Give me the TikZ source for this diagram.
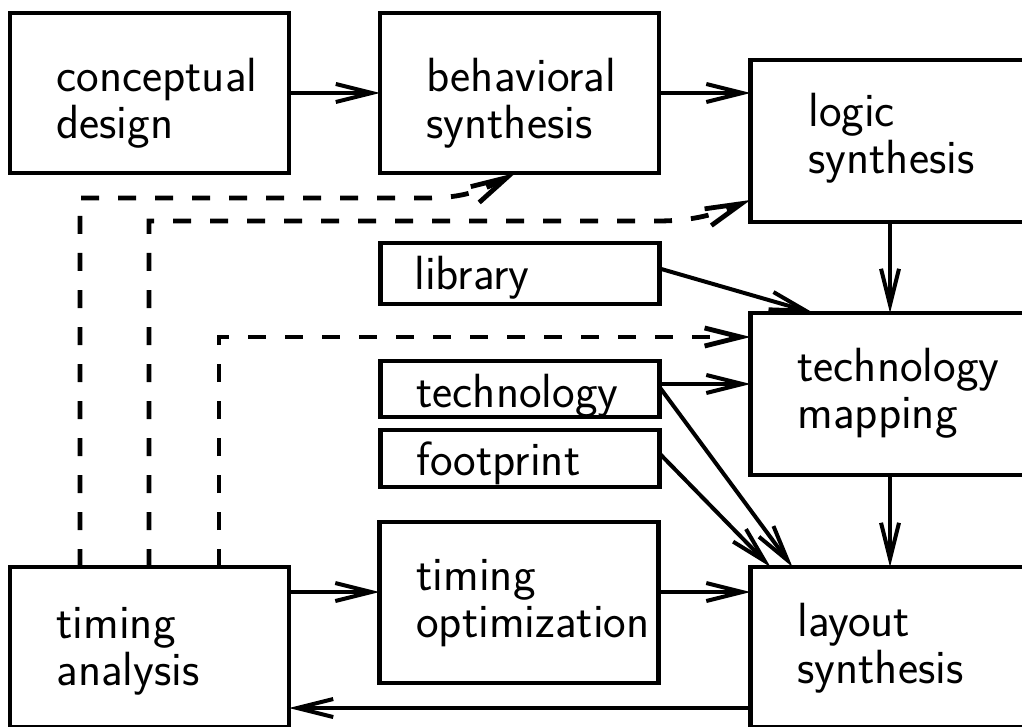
\documentclass[tikz,border=0pt]{standalone}
\usepackage{fontspec}
\usetikzlibrary{arrows.meta,calc}
\begin{document}
\begin{tikzpicture}[x=0.5pt,y=-0.5pt,
  box/.style={draw,line width=2.4pt,minimum width=139.5pt,inner sep=0pt,outer sep=0pt},
  txt/.style={font=\fontsize{24}{23.5}\selectfont\sffamily,align=left,inner sep=0pt,anchor=base west},
  conn/.style={line width=2pt,-{Straight Barb[length=18pt,width=9pt]}},
  dashconn/.style={conn,line width=2.4pt,dash pattern=on 9pt off 9.5pt}]
\useasboundingbox (0,0) rectangle (1022,727);
\clip (0,0) rectangle (1022,727);
% boxes
\node[box,minimum height=80pt] (concept) at (149.5,93) {};
\node[box,minimum height=80pt] (behav) at (519.5,93) {};
\node[box,minimum height=81pt] (logic) at (890,141) {};
\node[box,minimum height=30.5pt] (library) at (520,273.5) {};
\node[box,minimum height=81pt] (techmap) at (890,394) {};
\node[box,minimum height=28pt] (tech) at (520,389) {};
\node[box,minimum height=28.5pt] (foot) at (520,458.5) {};
\node[box,minimum height=80.5pt] (timopt) at (519,602.5) {};
\node[box,minimum height=80pt] (timanal) at (149.5,647) {};
\node[box,minimum height=80pt] (layout) at (890,647) {};
% texts
\node[txt] (conceptT) at (56,139) {conceptual\\design};
\node[txt] (behavT) at (426,139) {behavioral\\synthesis};
\node[txt] (logicT) at (808,174) {logic\\synthesis};
\node[txt] (libraryT) at (414,290) {library};
\node[txt] (techmapT) at (797,428) {technology\\mapping};
\node[txt] (techT) at (416,407) {technology};
\node[txt] (footT) at (416,475) {footprint};
\node[txt] (timoptT) at (416,637) {timing\\optimization};
\node[txt] (timanalT) at (56,685) {timing\\analysis};
\node[txt] (layoutT) at (797,683) {layout\\synthesis};
% solid connectors
\draw[conn] (concept.east) -- (behav.west);
\draw[conn] (behav.east) -- (behav.east -| logic.west);
\draw[conn] (logic.south) -- (techmap.north);
\draw[conn] (techmap.south) -- (layout.north);
\draw[conn] ($(library.east)+(0,-5)$) -- ($(techmap.north west)+(63,0)$);
\coordinate (techout) at ($(tech.east)+(0,-5)$);
\draw[conn] (techout) -- (techout -| techmap.west);
\draw[conn] ($(tech.east)+(0,-2)$) -- ($(layout.north west)+(42,0)$);
\draw[conn] ($(foot.east)+(0,-5)$) -- ($(layout.north west)+(20,0)$);
\coordinate (to1) at ($(timanal.north east)+(0,25)$);
\draw[conn] (to1) -- (to1 -| timopt.west);
\coordinate (to2) at ($(timopt.north east)+(0,70)$);
\draw[conn] (to2) -- (to2 -| layout.west);
\coordinate (lb) at ($(layout.south west)+(0,-19)$);
\draw[conn] (lb) -- (lb -| timanal.east);
% dashed feedback
\coordinate (d1) at (428,198);
\coordinate (d2) at (657,221);
\coordinate (d3) at ($(techmap.north west)+(0,24)$);
\draw[dashconn] ($(timanal.north west)+(70,0)$) |- (d1) to[out=0,in=208] ([xshift=-2pt]behav.south);
\draw[dashconn] ($(timanal.north west)+(139,0)$) |- (d2) to[out=0,in=202] ($(logic.north west)+(0,140)$);
\draw[dashconn] ($(timanal.north west)+(209,0)$) |- (d3);
\end{tikzpicture}
\end{document}
